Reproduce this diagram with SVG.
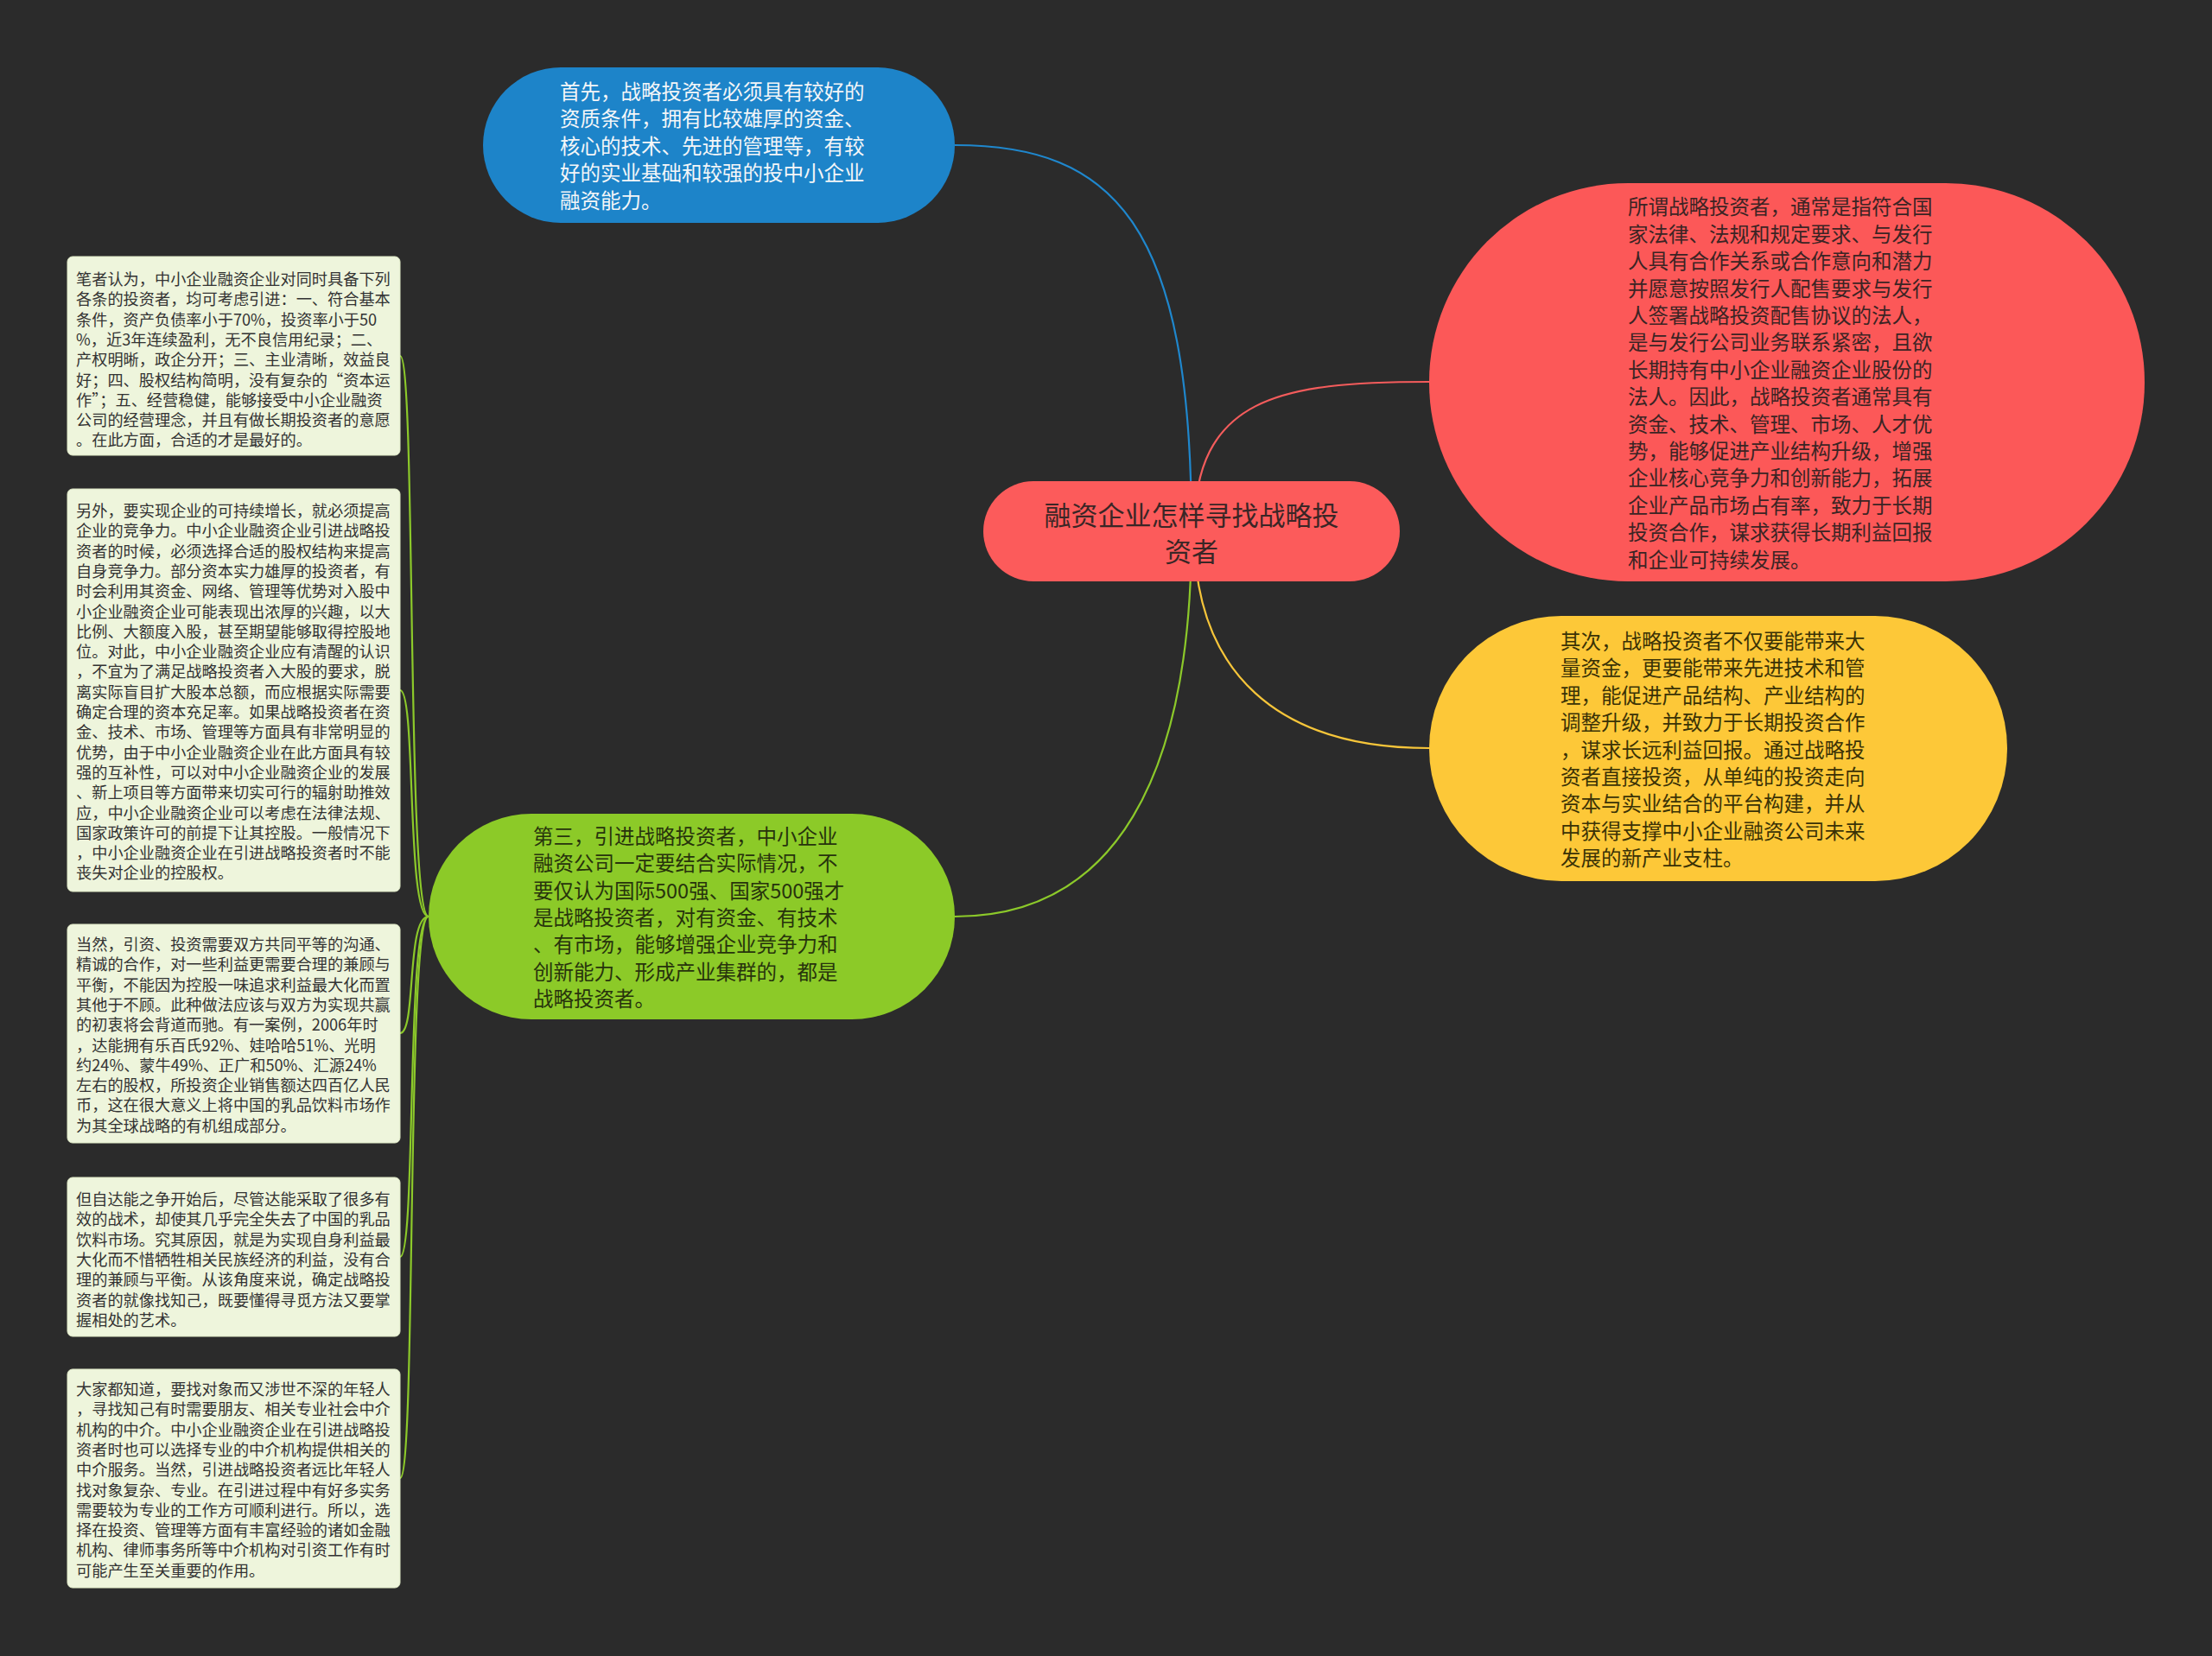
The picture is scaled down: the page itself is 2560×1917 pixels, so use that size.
<svg xmlns="http://www.w3.org/2000/svg" width="2560" height="1917" viewBox="0 0 2560 1917">
<style>
text{font-family:"Noto Sans CJK SC","Microsoft YaHei",sans-serif;dominant-baseline:central}
.c{fill:none;stroke-width:2.2}
.leaf rect{fill:#eef5dc;stroke:#dfe9c6;stroke-width:1}
.leaf text{font-size:18.2px;fill:#333333}
.big{font-size:23.5px}
</style>
<rect x="0" y="0" width="2560" height="1917" fill="#2b2b2b"/>
<g id="connectors">
<path class="c" stroke="#1f87cd" d="M1105,168 C1290,168 1379,260 1379,615"/>
<path class="c" stroke="#f45c5c" d="M1382,615 C1382,460 1480,442 1654,442"/>
<path class="c" stroke="#f6c53a" d="M1382,615 C1382,780 1480,866 1654,866"/>
<path class="c" stroke="#8cc92a" d="M1379,615 C1379,900 1290,1061 1105,1061"/>
<path class="c" stroke="#8cc92a" d="M496,1061 C470,1061 482,412 463,412"/>
<path class="c" stroke="#8cc92a" d="M496,1061 C470,1061 482,799 463,799"/>
<path class="c" stroke="#8cc92a" d="M496,1061 C470,1061 482,1196 463,1196"/>
<path class="c" stroke="#8cc92a" d="M496,1061 C470,1061 482,1455 463,1455"/>
<path class="c" stroke="#8cc92a" d="M496,1061 C470,1061 482,1711 463,1711"/>
</g>
<g id="root">
<rect x="1138" y="557" width="482" height="116" rx="58" fill="#fc5b5b"/>
<text x="1379" y="594" font-size="31" fill="#3a2626" text-anchor="middle">融资企业怎样寻找战略投</text>
<text x="1379" y="636" font-size="31" fill="#3a2626" text-anchor="middle">资者</text>
</g>
<g id="node-blue">
<rect x="559" y="78" width="546" height="180" rx="90" fill="#1d84c9"/>
<g class="big" fill="#f4f6f8">
<text x="648" y="104.5">首先，战略投资者必须具有较好的</text>
<text x="648" y="136">资质条件，拥有比较雄厚的资金、</text>
<text x="648" y="167.5">核心的技术、先进的管理等，有较</text>
<text x="648" y="199">好的实业基础和较强的投中小企业</text>
<text x="648" y="230.5">融资能力。</text>
</g>
</g>
<g id="node-red">
<rect x="1654" y="212" width="828" height="461" rx="230" fill="#fc5858"/>
<g class="big" fill="#3b2424">
<text x="1884" y="238.4">所谓战略投资者，通常是指符合国</text>
<text x="1884" y="269.8">家法律、法规和规定要求、与发行</text>
<text x="1884" y="301.2">人具有合作关系或合作意向和潜力</text>
<text x="1884" y="332.6">并愿意按照发行人配售要求与发行</text>
<text x="1884" y="364">人签署战略投资配售协议的法人，</text>
<text x="1884" y="395.4">是与发行公司业务联系紧密，且欲</text>
<text x="1884" y="426.8">长期持有中小企业融资企业股份的</text>
<text x="1884" y="458.2">法人。因此，战略投资者通常具有</text>
<text x="1884" y="489.6">资金、技术、管理、市场、人才优</text>
<text x="1884" y="521">势，能够促进产业结构升级，增强</text>
<text x="1884" y="552.4">企业核心竞争力和创新能力，拓展</text>
<text x="1884" y="583.8">企业产品市场占有率，致力于长期</text>
<text x="1884" y="615.2">投资合作，谋求获得长期利益回报</text>
<text x="1884" y="646.6">和企业可持续发展。</text>
</g>
</g>
<g id="node-yellow">
<rect x="1654" y="713" width="669" height="307" rx="153" fill="#fdc838"/>
<g class="big" fill="#3a3206">
<text x="1806" y="741">其次，战略投资者不仅要能带来大</text>
<text x="1806" y="772.4">量资金，更要能带来先进技术和管</text>
<text x="1806" y="803.8">理，能促进产品结构、产业结构的</text>
<text x="1806" y="835.2">调整升级，并致力于长期投资合作</text>
<text x="1806" y="866.6">，谋求长远利益回报。通过战略投</text>
<text x="1806" y="898">资者直接投资，从单纯的投资走向</text>
<text x="1806" y="929.4">资本与实业结合的平台构建，并从</text>
<text x="1806" y="960.8">中获得支撑中小企业融资公司未来</text>
<text x="1806" y="992.2">发展的新产业支柱。</text>
</g>
</g>
<g id="node-green">
<rect x="496" y="942" width="609" height="238" rx="119" fill="#8cca28"/>
<g class="big" fill="#27330c">
<text x="617" y="966.8">第三，引进战略投资者，中小企业</text>
<text x="617" y="998.2">融资公司一定要结合实际情况，不</text>
<text x="617" y="1029.6">要仅认为国际500强、国家500强才</text>
<text x="617" y="1061">是战略投资者，对有资金、有技术</text>
<text x="617" y="1092.4">、有市场，能够增强企业竞争力和</text>
<text x="617" y="1123.8">创新能力、形成产业集群的，都是</text>
<text x="617" y="1155.2">战略投资者。</text>
</g>
</g>
<g id="leaf-1" class="leaf">
<rect x="78" y="297" width="385" height="230" rx="6"/>
<text x="88" y="322">笔者认为，中小企业融资企业对同时具备下列</text>
<text x="88" y="345.3">各条的投资者，均可考虑引进：一、符合基本</text>
<text x="88" y="368.6">条件，资产负债率小于70%，投资率小于50</text>
<text x="88" y="391.9">%，近3年连续盈利，无不良信用纪录；二、</text>
<text x="88" y="415.2">产权明晰，政企分开；三、主业清晰，效益良</text>
<text x="88" y="438.5">好；四、股权结构简明，没有复杂的“资本运</text>
<text x="88" y="461.8">作”；五、经营稳健，能够接受中小企业融资</text>
<text x="88" y="485.1">公司的经营理念，并且有做长期投资者的意愿</text>
<text x="88" y="508.4">。在此方面，合适的才是最好的。</text>
</g>
<g id="leaf-2" class="leaf">
<rect x="78" y="566" width="385" height="466" rx="6"/>
<text x="88" y="590">另外，要实现企业的可持续增长，就必须提高</text>
<text x="88" y="613.3">企业的竞争力。中小企业融资企业引进战略投</text>
<text x="88" y="636.6">资者的时候，必须选择合适的股权结构来提高</text>
<text x="88" y="659.9">自身竞争力。部分资本实力雄厚的投资者，有</text>
<text x="88" y="683.2">时会利用其资金、网络、管理等优势对入股中</text>
<text x="88" y="706.5">小企业融资企业可能表现出浓厚的兴趣，以大</text>
<text x="88" y="729.8">比例、大额度入股，甚至期望能够取得控股地</text>
<text x="88" y="753.1">位。对此，中小企业融资企业应有清醒的认识</text>
<text x="88" y="776.4">，不宜为了满足战略投资者入大股的要求，脱</text>
<text x="88" y="799.7">离实际盲目扩大股本总额，而应根据实际需要</text>
<text x="88" y="823">确定合理的资本充足率。如果战略投资者在资</text>
<text x="88" y="846.3">金、技术、市场、管理等方面具有非常明显的</text>
<text x="88" y="869.6">优势，由于中小企业融资企业在此方面具有较</text>
<text x="88" y="892.9">强的互补性，可以对中小企业融资企业的发展</text>
<text x="88" y="916.2">、新上项目等方面带来切实可行的辐射助推效</text>
<text x="88" y="939.5">应，中小企业融资企业可以考虑在法律法规、</text>
<text x="88" y="962.8">国家政策许可的前提下让其控股。一般情况下</text>
<text x="88" y="986.1">，中小企业融资企业在引进战略投资者时不能</text>
<text x="88" y="1009.4">丧失对企业的控股权。</text>
</g>
<g id="leaf-3" class="leaf">
<rect x="78" y="1070" width="385" height="253" rx="6"/>
<text x="88" y="1092">当然，引资、投资需要双方共同平等的沟通、</text>
<text x="88" y="1115.3">精诚的合作，对一些利益更需要合理的兼顾与</text>
<text x="88" y="1138.6">平衡，不能因为控股一味追求利益最大化而置</text>
<text x="88" y="1161.9">其他于不顾。此种做法应该与双方为实现共赢</text>
<text x="88" y="1185.2">的初衷将会背道而驰。有一案例，2006年时</text>
<text x="88" y="1208.5">，达能拥有乐百氏92%、娃哈哈51%、光明</text>
<text x="88" y="1231.8">约24%、蒙牛49%、正广和50%、汇源24%</text>
<text x="88" y="1255.1">左右的股权，所投资企业销售额达四百亿人民</text>
<text x="88" y="1278.4">币，这在很大意义上将中国的乳品饮料市场作</text>
<text x="88" y="1301.7">为其全球战略的有机组成部分。</text>
</g>
<g id="leaf-4" class="leaf">
<rect x="78" y="1363" width="385" height="184" rx="6"/>
<text x="88" y="1387">但自达能之争开始后，尽管达能采取了很多有</text>
<text x="88" y="1410.3">效的战术，却使其几乎完全失去了中国的乳品</text>
<text x="88" y="1433.6">饮料市场。究其原因，就是为实现自身利益最</text>
<text x="88" y="1456.9">大化而不惜牺牲相关民族经济的利益，没有合</text>
<text x="88" y="1480.2">理的兼顾与平衡。从该角度来说，确定战略投</text>
<text x="88" y="1503.5">资者的就像找知己，既要懂得寻觅方法又要掌</text>
<text x="88" y="1526.8">握相处的艺术。</text>
</g>
<g id="leaf-5" class="leaf">
<rect x="78" y="1585" width="385" height="253" rx="6"/>
<text x="88" y="1607">大家都知道，要找对象而又涉世不深的年轻人</text>
<text x="88" y="1630.3">，寻找知己有时需要朋友、相关专业社会中介</text>
<text x="88" y="1653.6">机构的中介。中小企业融资企业在引进战略投</text>
<text x="88" y="1676.9">资者时也可以选择专业的中介机构提供相关的</text>
<text x="88" y="1700.2">中介服务。当然，引进战略投资者远比年轻人</text>
<text x="88" y="1723.5">找对象复杂、专业。在引进过程中有好多实务</text>
<text x="88" y="1746.8">需要较为专业的工作方可顺利进行。所以，选</text>
<text x="88" y="1770.1">择在投资、管理等方面有丰富经验的诸如金融</text>
<text x="88" y="1793.4">机构、律师事务所等中介机构对引资工作有时</text>
<text x="88" y="1816.7">可能产生至关重要的作用。</text>
</g>
</svg>
